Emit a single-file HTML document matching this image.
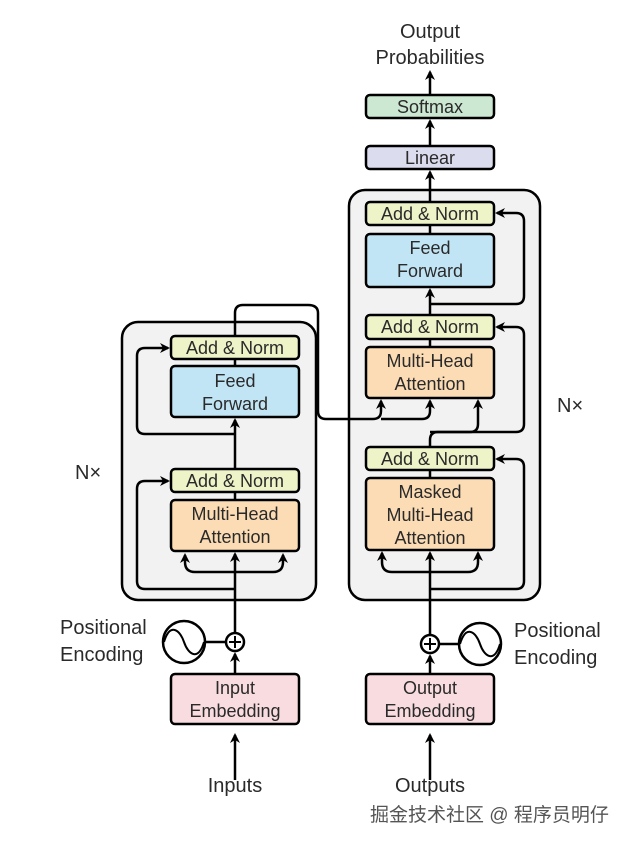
<!DOCTYPE html>
<html><head><meta charset="utf-8"><style>
body{margin:0;background:#fff;}
svg text{font-family:"Liberation Sans","Noto Sans CJK SC",sans-serif;fill:#2a2a2a;}
</style></head><body>
<svg width="636" height="847" viewBox="0 0 636 847" xmlns="http://www.w3.org/2000/svg">
<defs>
<marker id="a" markerWidth="10" markerHeight="10" refX="8" refY="5" orient="auto" markerUnits="userSpaceOnUse">
<path d="M0,0 L10,5 L0,10 L3,5 z" fill="#000"/></marker>
</defs>
<g stroke="#000" stroke-width="2.5">
<rect x="122" y="322" width="194" height="278" rx="16" fill="#f2f2f2"/>
<rect x="349" y="190" width="191" height="410" rx="16" fill="#f2f2f2"/>
</g>
<g fill="none" stroke="#000" stroke-width="2.5">
<path d="M235,780 L235,735" marker-end="url(#a)"/>
<path d="M235,674 L235,654" marker-end="url(#a)"/>
<path d="M235,632 L235,554" marker-end="url(#a)"/>
<path d="M205,642 L226,642"/>
<path d="M235,572 L195,572 Q185,572 185,562 L185,555" marker-end="url(#a)"/>
<path d="M235,572 L273,572 Q283,572 283,562 L283,555" marker-end="url(#a)"/>
<path d="M235,589 L145,589 Q137,589 137,581 L137,489 Q137,481 145,481 L168,481" marker-end="url(#a)"/>
<path d="M235,500 L235,492"/>
<path d="M235,469 L235,420" marker-end="url(#a)"/>
<path d="M235,434 L145,434 Q137,434 137,426 L137,356 Q137,348 145,348 L168,348" marker-end="url(#a)"/>
<path d="M235,366 L235,359"/>
<path d="M235,336 L235,313 Q235,305 243,305 L308,305 Q318,305 318,313 L318,411 Q318,419 326,419 L373,419 Q381,419 381,411 L381,401" marker-end="url(#a)"/>
<path d="M381,419 L422,419 Q430,419 430,411 L430,401" marker-end="url(#a)"/>
<path d="M430,780 L430,735" marker-end="url(#a)"/>
<path d="M430,674 L430,656" marker-end="url(#a)"/>
<path d="M439,644 L459,644"/>
<path d="M430,634 L430,553" marker-end="url(#a)"/>
<path d="M430,572 L392,572 Q382,572 382,562 L382,553" marker-end="url(#a)"/>
<path d="M430,572 L468,572 Q478,572 478,562 L478,553" marker-end="url(#a)"/>
<path d="M430,589 L516,589 Q524,589 524,581 L524,467 Q524,459 516,459 L497,459" marker-end="url(#a)"/>
<path d="M430,478 L430,470"/>
<path d="M430,447 L430,440 Q430,432 438,432 L470,432 Q478,432 478,424 L478,401" marker-end="url(#a)"/>
<path d="M430,432 L516,432 Q524,432 524,424 L524,335 Q524,327 516,327 L497,327" marker-end="url(#a)"/>
<path d="M430,347 L430,339"/>
<path d="M430,315 L430,290" marker-end="url(#a)"/>
<path d="M430,304 L516,304 Q524,304 524,296 L524,221 Q524,213 516,213 L497,213" marker-end="url(#a)"/>
<path d="M430,234 L430,225"/>
<path d="M430,202 L430,172" marker-end="url(#a)"/>
<path d="M430,146 L430,121" marker-end="url(#a)"/>
<path d="M430,95 L430,72" marker-end="url(#a)"/>
</g>
<g stroke="#000" stroke-width="2.5">
<rect x="171" y="336" width="128" height="23" rx="4" fill="#eef3c8"/>
<rect x="171" y="366" width="128" height="51" rx="4" fill="#c2e5f5"/>
<rect x="171" y="469" width="128" height="23" rx="4" fill="#eef3c8"/>
<rect x="171" y="500" width="128" height="51" rx="4" fill="#fcdcb4"/>
<rect x="171" y="674" width="128" height="50" rx="4" fill="#f9dce0"/>
<rect x="366" y="202" width="128" height="23" rx="4" fill="#eef3c8"/>
<rect x="366" y="234" width="128" height="53" rx="4" fill="#c2e5f5"/>
<rect x="366" y="315" width="128" height="24" rx="4" fill="#eef3c8"/>
<rect x="366" y="347" width="128" height="51" rx="4" fill="#fcdcb4"/>
<rect x="366" y="447" width="128" height="23" rx="4" fill="#eef3c8"/>
<rect x="366" y="478" width="128" height="72" rx="4" fill="#fcdcb4"/>
<rect x="366" y="674" width="128" height="50" rx="4" fill="#f9dce0"/>
<rect x="366" y="146" width="128" height="23" rx="4" fill="#dcdcef"/>
<rect x="366" y="95" width="128" height="23" rx="4" fill="#cde8d2"/>
<circle cx="235" cy="642" r="9" fill="#fff"/>
<circle cx="184" cy="642" r="21" fill="#fff"/>
<circle cx="430" cy="644" r="9" fill="#fff"/>
<circle cx="480" cy="644" r="21" fill="#fff"/>
</g>
<g stroke="#000" stroke-width="2" fill="none">
<path d="M229,642 H241 M235,636 V648"/>
<path d="M424,644 H436 M430,638 V650"/>
<path d="M164,642 C170,622 180,630 184,642 C188,654 198,662 204,642"/>
<path d="M460,644 C466,624 476,632 480,644 C484,656 494,664 500,644"/>
</g>
<g font-size="18" text-anchor="middle">
<text x="235" y="354">Add &amp; Norm</text>
<text x="235" y="387">Feed</text><text x="235" y="410">Forward</text>
<text x="235" y="487">Add &amp; Norm</text>
<text x="235" y="520">Multi-Head</text><text x="235" y="543">Attention</text>
<text x="235" y="694">Input</text><text x="235" y="717">Embedding</text>
<text x="430" y="220">Add &amp; Norm</text>
<text x="430" y="254">Feed</text><text x="430" y="277">Forward</text>
<text x="430" y="333">Add &amp; Norm</text>
<text x="430" y="367">Multi-Head</text><text x="430" y="390">Attention</text>
<text x="430" y="465">Add &amp; Norm</text>
<text x="430" y="498">Masked</text><text x="430" y="521">Multi-Head</text><text x="430" y="544">Attention</text>
<text x="430" y="694">Output</text><text x="430" y="717">Embedding</text>
<text x="430" y="164">Linear</text>
<text x="430" y="113">Softmax</text>
</g>
<g font-size="20">
<text x="430" y="38" text-anchor="middle">Output</text>
<text x="430" y="64" text-anchor="middle">Probabilities</text>
<text x="235" y="792" text-anchor="middle">Inputs</text>
<text x="430" y="792" text-anchor="middle">Outputs</text>
<text x="60" y="634">Positional</text>
<text x="60" y="661">Encoding</text>
<text x="514" y="637">Positional</text>
<text x="514" y="664">Encoding</text>
<text x="75" y="479">N×</text>
<text x="557" y="412">N×</text>
</g>
<text x="370" y="821" font-size="19" style="fill:#555">掘金技术社区 @ 程序员明仔</text>
</svg>
</body></html>
